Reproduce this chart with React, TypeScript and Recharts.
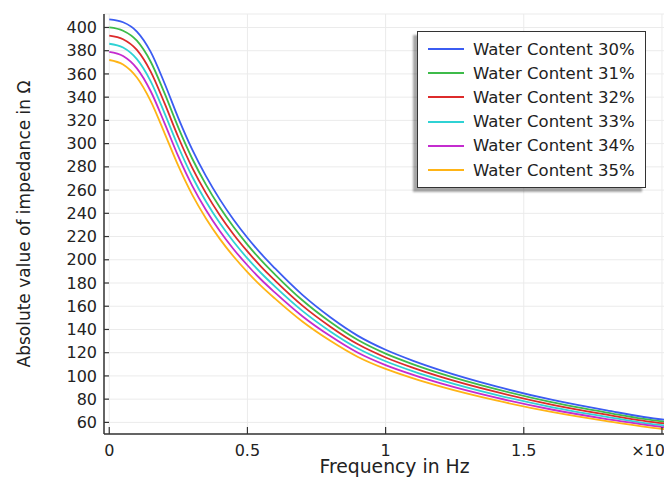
import React from "react";
import { LineChart, Line, XAxis, YAxis, CartesianGrid, Legend } from "recharts";

// frequency (x10^4 Hz) and |Z| in ohm
const freq = [0, 0.05, 0.1, 0.15, 0.2, 0.25, 0.3, 0.35, 0.4, 0.45, 0.5, 0.55, 0.6, 0.7, 0.8, 0.9, 1.0, 1.1, 1.2, 1.4, 1.6, 1.8, 2.0, 2.02];
const wc30 = [407, 404.5, 396.5, 379, 352, 322, 295, 272, 252, 234.5, 219, 205, 192.5, 169.5, 150.5, 134.5, 122.5, 113, 104.8, 91, 79.5, 70.3, 62.5, 62];
const wc31 = [400, 397.2, 388.6, 370.5, 343.4, 313.8, 287.2, 264.7, 245.2, 228.2, 213.1, 199.5, 187.3, 164.9, 146.4, 130.9, 119.2, 110, 102, 88.6, 77.4, 68.5, 60.9, 60.4];
const wc32 = [393, 389.9, 380.7, 362, 334.8, 305.5, 279.4, 257.4, 238.4, 221.8, 207.2, 193.9, 182.1, 160.3, 142.4, 127.2, 115.9, 107, 99.2, 86.2, 75.3, 66.6, 59.3, 58.8];
const wc33 = [386, 382.7, 372.7, 353.6, 326.3, 297.3, 271.7, 250.2, 231.6, 215.5, 201.2, 188.4, 176.9, 155.8, 138.3, 123.6, 112.6, 103.9, 96.4, 83.7, 73.2, 64.8, 57.6, 57.2];
const wc34 = [379, 375.4, 364.8, 345.1, 317.7, 289, 263.9, 242.9, 224.8, 209.1, 195.3, 182.8, 171.7, 151.2, 134.3, 119.9, 109.3, 100.9, 93.6, 81.3, 71.1, 62.9, 56, 55.5];
const wc35 = [372, 368.1, 356.9, 336.6, 309.1, 280.8, 256.1, 235.6, 218, 202.8, 189.4, 177.3, 166.5, 146.6, 130.2, 116.3, 106, 97.9, 90.8, 78.9, 69, 61.1, 54.4, 53.9];

const xTicks = [0, 0.5, 1, 1.5, 2];
const yTicks = [60, 80, 100, 120, 140, 160, 180, 200, 220, 240, 260, 280, 300, 320, 340, 360, 380, 400];

const seriesNames = [
  "Water Content 30%",
  "Water Content 31%",
  "Water Content 32%",
  "Water Content 33%",
  "Water Content 34%",
  "Water Content 35%",
];
const seriesColors = ["#3b5cf2", "#3dbb4a", "#dd2b2b", "#2fd2d4", "#c42ccf", "#ffb416"];
const seriesValues = [wc30, wc31, wc32, wc33, wc34, wc35];

const data = freq.map((f, i) => {
  const row: any = { f };
  seriesValues.forEach((vals, k) => {
    row["s" + k] = vals[i];
  });
  return row;
});

const AXIS = "#333";
const TEXT = "#222";

const LeftTick = ({ x, y, payload }: any) => (
  <g>
    <line x1={x} x2={x + 5} y1={y} y2={y} stroke={AXIS} strokeWidth={1.2} />
    <text x={x - 7} y={y} dy={5.6} textAnchor="end" fontSize={16} fill={TEXT}>
      {payload.value}
    </text>
  </g>
);

const RightTick = ({ x, y }: any) => (
  <line x1={x - 5} x2={x} y1={y} y2={y} stroke={AXIS} strokeWidth={1.2} />
);

const BottomTick = ({ x, y, payload }: any) => {
  const isLast = payload.value === 2;
  return (
    <g>
      <line x1={x} x2={x} y1={y} y2={y - 7} stroke={AXIS} strokeWidth={1.2} />
      <text
        x={isLast ? x + 3 : x}
        y={y + 22}
        textAnchor={isLast ? "end" : "middle"}
        fontSize={16}
        fill={TEXT}
      >
        {isLast ? "×10" : payload.value}
      </text>
    </g>
  );
};

const TopTick = ({ x, y }: any) => (
  <line x1={x} x2={x} y1={y} y2={y + 7} stroke={AXIS} strokeWidth={1.2} />
);

const YTitle = ({ viewBox }: any) => (
  <text
    x={viewBox.x + 24}
    y={viewBox.y + viewBox.height / 2}
    transform={`rotate(-90, ${viewBox.x + 24}, ${viewBox.y + viewBox.height / 2})`}
    textAnchor="middle"
    dominantBaseline="central"
    fontSize={17}
    fill={TEXT}
  >
    Absolute value of impedance in Ω
  </text>
);

const XTitle = ({ viewBox }: any) => (
  <text
    x={viewBox.x + viewBox.width / 2 + 10}
    y={viewBox.y + 39}
    textAnchor="middle"
    fontSize={18.8}
    fill={TEXT}
  >
    Frequency in Hz
  </text>
);

const LegendBox = ({ payload }: any) => (
  <div
    style={{
      background: "#fff",
      border: "1px solid #333",
      boxShadow: "-4px 4px 2px rgba(0,0,0,0.35)",
      padding: "5px 10px",
    }}
  >
    {(payload || []).map((entry: any) => (
      <div
        key={entry.value}
        style={{ display: "flex", alignItems: "center", height: 24.2, whiteSpace: "nowrap" }}
      >
        <div style={{ width: 36, height: 2, background: entry.color, marginRight: 9 }} />
        <span style={{ fontSize: 16.5, color: TEXT }}>{entry.value}</span>
      </div>
    ))}
  </div>
);

export default function App() {
  return (
    <div
      style={{
        position: "absolute",
        left: 0,
        top: 0,
        width: 664,
        height: 477,
        overflow: "hidden",
        background: "#fff",
        fontFamily: "'DejaVu Sans', sans-serif",
      }}
    >
      <LineChart width={680} height={477} data={data} margin={{ top: 14, right: 15, left: 0, bottom: 0 }}>
        <CartesianGrid stroke="#ebebeb" strokeWidth={1} />
        <XAxis
          dataKey="f"
          type="number"
          domain={[-0.019, 2.011]}
          allowDataOverflow
          ticks={xTicks}
          height={43}
          tickSize={0}
          tickMargin={0}
          tickLine={false}
          axisLine={{ stroke: AXIS, strokeWidth: 1.5 }}
          tick={<BottomTick />}
          interval={0}
          label={<XTitle />}
        />
        <XAxis
          xAxisId="top"
          orientation="top"
          dataKey="f"
          type="number"
          domain={[-0.019, 2.011]}
          allowDataOverflow
          ticks={xTicks}
          height={0}
          tickSize={0}
          tickMargin={0}
          tickLine={false}
          axisLine={{ stroke: AXIS, strokeWidth: 1.5 }}
          tick={<TopTick />}
          interval={0}
        />
        <YAxis
          type="number"
          domain={[50, 411.6]}
          allowDataOverflow
          ticks={yTicks}
          width={104}
          tickSize={0}
          tickMargin={0}
          tickLine={false}
          axisLine={{ stroke: AXIS, strokeWidth: 1.5 }}
          tick={<LeftTick />}
          interval={0}
          label={<YTitle />}
        />
        <YAxis
          yAxisId="right"
          orientation="right"
          type="number"
          domain={[50, 411.6]}
          allowDataOverflow
          ticks={yTicks}
          width={0}
          tickSize={0}
          tickMargin={0}
          tickLine={false}
          axisLine={{ stroke: AXIS, strokeWidth: 1.5 }}
          tick={<RightTick />}
          interval={0}
        />
        <Legend
          layout="vertical"
          align="center"
          verticalAlign="middle"
          content={<LegendBox />}
          wrapperStyle={{ left: 417, top: 31, width: "auto", height: "auto" }}
        />
        {seriesNames.map((name, k) => (
          <Line
            key={name}
            name={name}
            dataKey={"s" + k}
            type="monotone"
            stroke={seriesColors[k]}
            strokeWidth={1.8}
            dot={false}
            activeDot={false}
            isAnimationActive={false}
          />
        ))}
      </LineChart>
    </div>
  );
}
